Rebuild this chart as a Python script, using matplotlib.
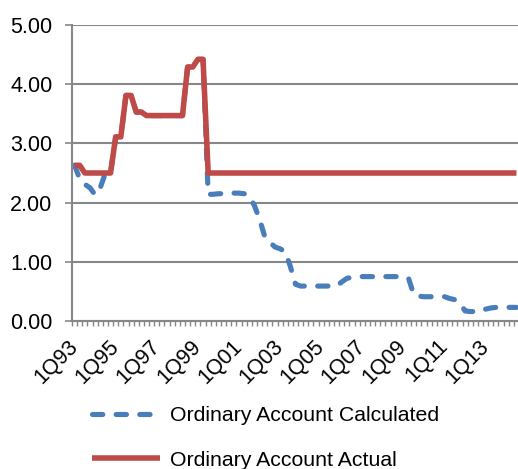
import matplotlib
matplotlib.use("Agg")
import matplotlib.pyplot as plt
from matplotlib.ticker import FixedLocator

plt.rcParams['font.family'] = ['Liberation Sans', 'DejaVu Sans']

# quarterly categories 1Q93 .. 3Q14
quarters = [f"{q}Q{y % 100:02d}" for y in range(1993, 2015) for q in range(1, 5)][:87]
label_every = 8

actual = ([2.63, 2.63] + [2.50] * 6 + [3.11, 3.11, 3.81, 3.81, 3.53, 3.53]
          + [3.47] * 8 + [4.29, 4.29, 4.42, 4.42] + [2.50] * 61)

calculated = ([2.63, 2.40, 2.31, 2.25, 2.13, 2.25, 2.50, 2.50]
              + actual[8:26]
              + [2.14, 2.14, 2.15, 2.15, 2.16, 2.16, 2.16, 2.15, 2.11, 1.95,
                 1.72, 1.43, 1.33, 1.25, 1.22, 1.17, 0.92, 0.62]
              + [0.59] * 8
              + [0.66, 0.72, 0.74] + [0.75] * 10
              + [0.72, 0.45, 0.42] + [0.41] * 5
              + [0.38, 0.36, 0.30, 0.17, 0.16, 0.16, 0.16, 0.20, 0.22]
              + [0.23] * 5)

yticks = [0, 1, 2, 3, 4, 5]

BLUE, RED, GRAY = "#4a7ebb", "#be4b48", "#878787"

fig = plt.figure(figsize=(5.18, 4.69), dpi=100)
W, H = 518, 469
ax = fig.add_axes([72 / W, (H - 321) / H, (W - 72) / W, (321 - 25) / H])

x = list(range(len(quarters)))
ax.plot(x, calculated, color=BLUE, lw=3.7, linestyle=(0, (2.0, 2.6)),
        dash_capstyle='round', solid_joinstyle='round', label="Ordinary Account Calculated")
ax.plot(x, actual, color=RED, lw=4.0, solid_capstyle='butt', solid_joinstyle='round',
        label="Ordinary Account Actual")

ax.set_xlim(-0.5, 86.3)
ax.set_ylim(0, 5)
ax.set_yticks(yticks)
ax.set_yticklabels([f"{v:.2f}" for v in yticks])
ax.grid(axis='y', color=GRAY, lw=1.5)
ax.set_axisbelow(True)

lab_pos = list(range(0, len(quarters), label_every))
ax.set_xticks(lab_pos)
ax.set_xticklabels([quarters[i] for i in lab_pos], rotation=45, ha='right', va='center',
                   rotation_mode='anchor')
ax.xaxis.set_minor_locator(FixedLocator([i - 0.5 for i in range(len(quarters) + 1)]))

for s in ['top', 'right']:
    ax.spines[s].set_visible(False)
for s in ['left', 'bottom']:
    ax.spines[s].set_color(GRAY)
    ax.spines[s].set_linewidth(1.5)

ax.tick_params(axis='y', length=5, width=1.2, color=GRAY, labelsize=15.5, pad=9)
ax.tick_params(axis='x', which='major', length=0, labelsize=15.5, pad=16)
ax.tick_params(axis='x', which='minor', length=3.6, width=1.0, color=GRAY)

fig.legend(loc='upper left', bbox_to_anchor=(92 / W, (H - 406) / H), frameon=False,
           fontsize=15.3, handlelength=3.2, handletextpad=0.45, labelspacing=1.2,
           borderpad=0, borderaxespad=0)

fig.savefig("out.png", dpi=100)
